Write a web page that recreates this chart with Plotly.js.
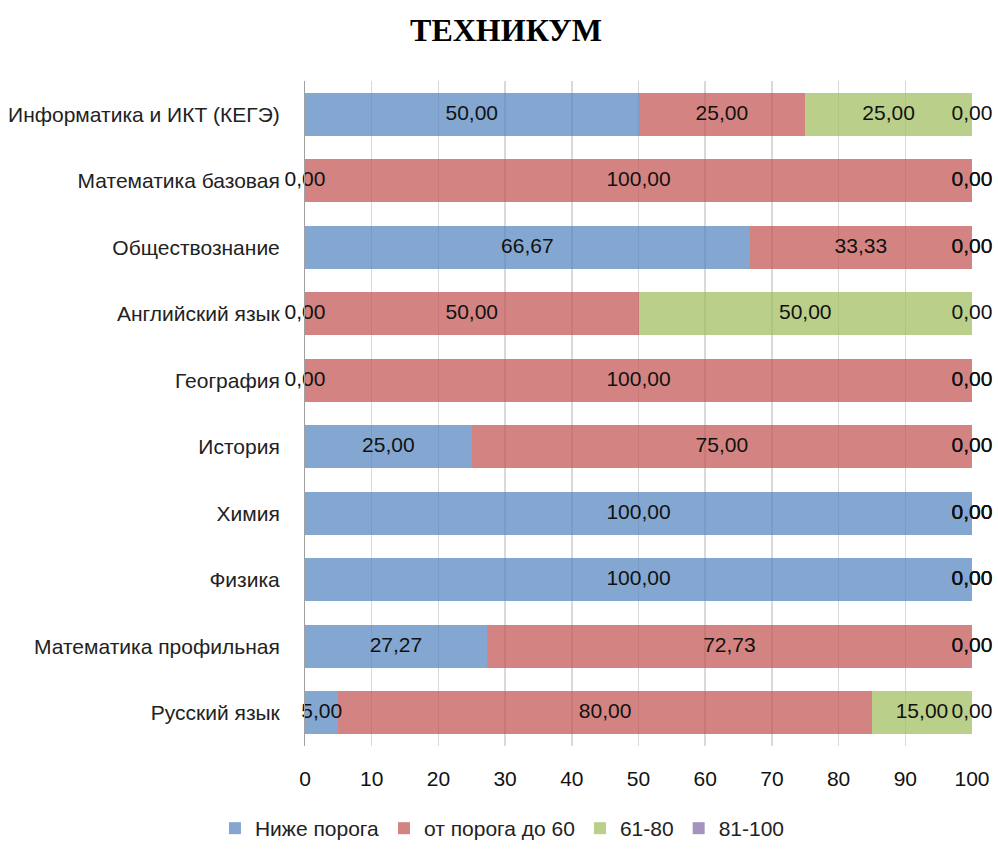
<!DOCTYPE html>
<html>
<head>
<meta charset="utf-8">
<script src="https://cdn.plot.ly/plotly-3.0.1.min.js"></script>
<style>html,body{margin:0;padding:0;background:#fff;}#chart{width:998px;height:861px;}</style>
</head>
<body>
<div id="chart"></div>
<script>
// Categories, bottom to top
const categories = [
  "Русский язык",
  "Математика профильная",
  "Физика",
  "Химия",
  "История",
  "География",
  "Английский язык",
  "Обществознание",
  "Математика базовая",
  "Информатика и ИКТ (КЕГЭ)"
];
const seriesNames = ["Ниже порога", "от порога до 60", "61-80", "81-100"];
const belowThreshold = [5.00, 27.27, 100.00, 100.00, 25.00, 0.00, 0.00, 66.67, 0.00, 50.00];
const thresholdTo60  = [80.00, 72.73, 0.00, 0.00, 75.00, 100.00, 50.00, 33.33, 100.00, 25.00];
const from61to80     = [15.00, 0.00, 0.00, 0.00, 0.00, 0.00, 50.00, 0.00, 0.00, 25.00];
const from81to100    = [0.00, 0.00, 0.00, 0.00, 0.00, 0.00, 0.00, 0.00, 0.00, 0.00];
const xTicks = [0, 10, 20, 30, 40, 50, 60, 70, 80, 90, 100];

const seriesValues = [belowThreshold, thresholdTo60, from61to80, from81to100];
const colors = [
  "rgba(79,129,189,0.7)",
  "rgba(192,80,77,0.7)",
  "rgba(155,187,89,0.7)",
  "rgba(128,100,162,0.7)"
];
const FONT = "'Liberation Sans', Arial, sans-serif";

function fmt(v) { return v.toFixed(2).replace('.', ','); }

const traces = [];
seriesValues.forEach((vals, i) => {
  traces.push({
    type: 'bar',
    orientation: 'h',
    name: seriesNames[i],
    y: categories,
    x: vals,
    marker: {color: colors[i], line: {width: 0}},
    hoverinfo: 'none'
  });
});
// data labels centred on each segment (computed from the data)
const cum = categories.map(() => 0);
seriesValues.forEach((vals, i) => {
  const xs = vals.map((v, k) => { const c = cum[k] + v / 2; cum[k] += v; return c; });
  traces.push({
    type: 'scatter',
    mode: 'text',
    y: categories,
    x: xs,
    text: vals.map(fmt),
    textposition: 'middle center',
    textfont: {family: FONT, size: 21, color: '#111'},
    showlegend: false,
    hoverinfo: 'none',
    cliponaxis: false
  });
});

const layout = {
  width: 998,
  height: 861,
  paper_bgcolor: '#fff',
  plot_bgcolor: '#fff',
  margin: {l: 305, r: 26, t: 81, b: 95},
  barmode: 'stack',
  bargap: 0.358,
  showlegend: true,
  title: {
    text: '<b>ТЕХНИКУМ</b>',
    font: {family: "'Liberation Serif', 'Times New Roman', serif", size: 32, color: '#000'},
    x: 0.507, xref: 'container', xanchor: 'center',
    y: 1 - 30 / 861, yref: 'container', yanchor: 'middle'
  },
  xaxis: {
    range: [0, 100],
    tickvals: xTicks,
    ticktext: xTicks.map(String),
    showgrid: true,
    gridcolor: '#D9D9D9',
    gridwidth: 1.5,
    zeroline: false,
    showline: false,
    ticks: '',
    ticklabelstandoff: 18,
    tickfont: {family: FONT, size: 21, color: '#111'},
    fixedrange: true
  },
  yaxis: {
    type: 'category',
    categoryorder: 'array',
    categoryarray: categories,
    showgrid: false,
    zeroline: false,
    showline: true,
    linecolor: '#A0A0A0',
    linewidth: 1,
    ticks: '',
    ticklabelstandoff: 20,
    tickfont: {family: FONT, size: 21, color: '#222'},
    fixedrange: true
  },
  legend: {
    orientation: 'h',
    x: -0.135, xanchor: 'left',
    y: -(851 - 766) / 685, yanchor: 'middle',
    font: {family: FONT, size: 21, color: '#222'},
    traceorder: 'normal',
    bgcolor: 'rgba(0,0,0,0)'
  }
};

Plotly.newPlot('chart', traces, layout, {staticPlot: true, displayModeBar: false});
</script>
</body>
</html>
